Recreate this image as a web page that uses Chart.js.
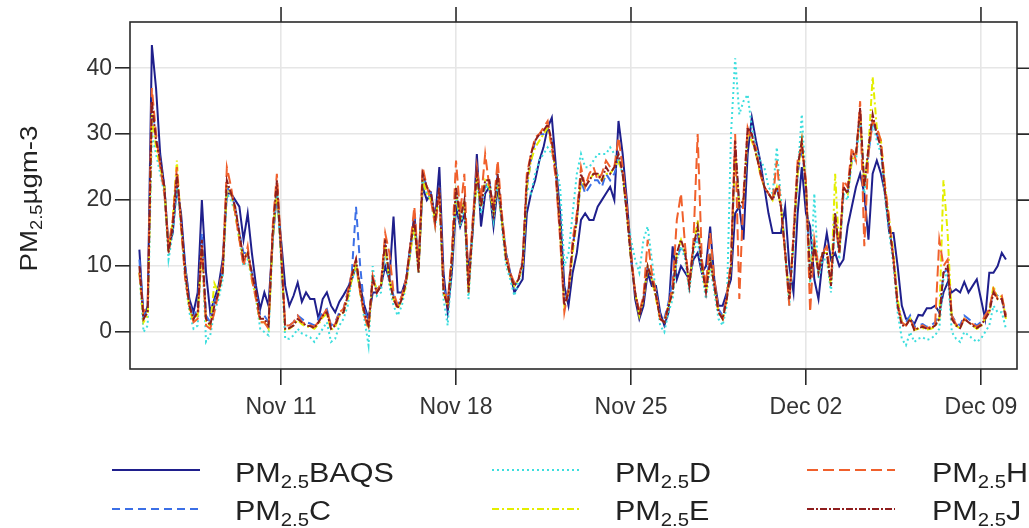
<!DOCTYPE html>
<html lang="en">
<head>
    <meta charset="UTF-8">
    <title>PM2.5</title>
    <script src="https://cdn.jsdelivr.net/npm/chart.js"></script>
    <style>
        html, body { margin: 0; padding: 0; background: #fff; }
        #box { width: 1029px; height: 528px; }
    </style>
</head>
<body>
    <div id="box"><canvas id="myChart" width="1029" height="528"></canvas></div>
<script>
    // hours since Nov 01 00:00, one reading every 4 hours (Nov 05 08:00 .. Dec 10 00:00)
    const hours = Array.from({ length: 209 }, (_, i) => 104 + 4 * i);

    const tickHours = [240, 408, 576, 744, 912];
    const tickLabels = ['Nov 11', 'Nov 18', 'Nov 25', 'Dec 02', 'Dec 09'];
    const yTicks = [0, 10, 20, 30, 40];

    const seriesNames = ['BAQS', 'C', 'D', 'E', 'H', 'J'];

    const pmBAQS = [12.5,2,4,43.5,37,27,22,13,15,22,
        18,10,5,3,6,20,9,3,5,7,
        11,21,21,20,19,14,18,12,7,3.5,
        6,4,14,21,14,7,4,5.5,7.5,4.6,
        6,5,5,2,5,6,4,3,4.6,5.6,
        6.7,8,10,7,4,2,6,6,7,10,
        8,17.5,6,6,8,12,18,10,22,20,
        21,17,25,9,3,9,19,16,18,9,
        15,27,16,21,22,16,22,17,12,9,
        6,7,8,18,21,23,26,28,31,32.5,
        25,18,7,4,9,12,17,18,17,17,
        19,20,21,22,20,32,27,20,12,5,
        2,4,9,7,7,3,1,3,13,8,
        10,9,8,11,12,9,10,16,8,4,
        4,6,8,18,19,14,27,32.5,29,26,
        22,18,15,15,15,19,10,6,18,25,
        18,16,8,5,11,15,11,12,10,11,
        16,19,22,24,21,14,24,26,24,21,
        15,15,10,4,2,2,1.2,2.6,2.5,3.6,
        3.6,4,3,6,7.5,6,6.5,6,7.6,6,
        7,8,5,2,9,9,10,12,11];

    const pmC = [11,2.5,3.5,34,30,26,22,13,16,23,
        17,10,4.5,2,4,15,2.5,1.5,4.5,6.5,
        9,22,21,19,15,12,12,9,6,2.5,
        2.5,1.5,14,22,12,1,1,1.5,2.5,2,
        1.5,1.3,1,2,3,3.5,1,1.5,3,3.5,
        6,9,19,10,3.5,1.5,8,6.5,7,13,
        8,5.5,4,5.5,8,13,17,10,24,22,
        21,17,22,7,4.5,11,21,17,20,7,
        16,24,20,22,23,18,24,17,12,9,
        7,8,11,22,26,29,30,30,31,29,
        24,16,5,6.5,13,17,23,21,22,23,
        23,22,24,23,24,26,24,18,11,6,
        3,5,10,8,6,2.5,2,4.5,8,11,
        13,12,7,13,15,10,7,12,7,3.5,
        2.5,5.5,10,28,19,19,30,30,27,25,
        22,21,20,22,19,13,5.5,14,24,28,
        22,9,13,9,12,12,7.5,18,12,21,
        21,26,27,33,22,27,32,30,28,21,
        16,11,4.5,1.5,1.5,2.5,0.8,1,1.2,0.8,
        1,1.5,2.5,9,9.5,2.5,1.5,1,2.5,2,
        1.5,1,1.5,2.5,3.5,6,5.5,5,2.5];

    const pmD = [9,0,1,30,27,24,21,11,15,22,
        16,8,3,0.5,1,13,-1.5,-0.5,3,5,
        8,21,20,18,14,10,11,8,5,0.5,
        0,-0.5,14,22,11,-1,-1,-0.5,0.5,-0.2,
        -0.5,-0.8,-1.5,-0.5,0.5,1.5,-1.5,-1,1,2,
        4,8,10,6,2,-2,10,5.5,6,13,
        7,4,2.5,4,7,12,16,9,23,21,
        20,16,21,5,1,10,21,16,19,5,
        15,23,18,22,22,17,23,16,10,8,
        5.5,7.5,10,22,21,24,26,27,28,27,
        25,22,10,12,18,24,27,25,25,26,
        27,27,27,28,27,26,24,18,14,11,
        9,14,16,11,6,1,0,3,5,11,
        13,11,6,12,14,9,5,10,6,2,
        1,4,30,41.5,33,35,36,31,28,26,
        25,22,21,28,20,12,4,13,24,33,
        22,7,21,8,11,11,6,17,11,21,
        20,26,26,32,21,27,32,29,27,20,
        15,10,3,-1,-2,0,-1.5,-1,-0.8,-1.2,
        -1,-0.5,0.5,8,9,0,-1,-1.5,0,-0.5,
        -1,-1.5,-1,0,1,4,3,3,0.5];

    const pmE = [9,1.5,2.5,33,28,25,22,12,17,26,
        16,9,3.5,1.5,2.5,13,1.5,1,7.4,6,
        9,22,21,18,14,11,12,8,5,1.5,
        1.5,0.5,14,22,12,0.3,0.5,1,1.8,1.2,
        0.8,0.8,0.5,1.2,2.2,2.8,0.3,0.8,2.4,3,
        5,8,10,6,2.5,0.5,8,6.5,7,13,
        8,5,3.5,5,7,12,16,9,23,21,
        20,17,21,6,4,11,21,17,20,6,
        16,23,19,23,22,18,23,17,11,8.5,
        7,8,10,22,26,28,29,30,31,28,
        24,15,4,6,12,17,23,22,23,24,
        24,23,24,24,25,26,24,18,11,6,
        2.5,5,10,8,5,2,1.5,4,6,12,
        14,12,7,13,17,10,6,11,7,3,
        2,5,10,27,19,20,30,29,27,24,
        22,21,20,22,19,12,5,14,24,29,
        22,9,13,9,12,12,7,24,12,22,
        21,26,27,33,22,28,38.7,31,29,22,
        17,12,5,1.5,1,2,0.3,0.5,0.6,0.4,
        0.5,0.8,2,23,15,2,1,0.5,2,1.5,
        1,0.5,0.8,2,3,7,5,5.5,2];

    const pmH = [9,3,4,37,30,25,21,13,17,25,
        16,8,4,1.5,2,13,1,0.5,3,6,
        10,25,22,18,14,10,13,8,5,1.5,
        1.5,0.5,16,24,13,1,1,1.5,2.5,1.5,
        1.2,1,0.8,1.5,2.5,3.5,0.8,1.2,3,3.5,
        6,9,11,6,2.5,0.5,8.5,6,7.5,15,
        12,6,4,5.5,8,13,19,10,25,22,
        20,16,21,7,4.5,12,26,18,24,7,
        17,25,20,27,22,19,26,18,12,9,
        7.5,8,11,24,27,29.5,30,31,32,28,
        23,14,3,6.5,14,18,25,22,24,25,
        23,24,26,25,25,29.5,25,19,12,6,
        3,5.5,14,9,6,2,1.5,4,7,17,
        21,13,7,14,30,11,7,15,8,3,
        2,5.5,11,30,5,21,31,29,28,24,
        22,21,20,26,19,12,4,15,26,28,
        23,3,14,10,12,13,8,17,12,23,
        22,28,26,35,13,27,32,31,29,22,
        17,11,4,1.5,1,2,0.5,0.8,1,0.6,
        0.8,1.2,14,10,11,2.5,1.2,0.8,2,1.5,
        1.2,0.8,1.2,2.5,3.5,6.5,5,5.5,2.5];

    const pmJ = [10,2,3,35,29,26,22,12,16,24,
        17,9,4,2,3,14,2,1,4,6,
        9,23,21,19,15,11,12,9,6,2,
        2,1,15,23,12,0.5,0.6,1,2,1.5,
        1,0.9,0.6,1.5,2.5,3,0.5,1,2.6,3,
        5.5,8.5,11,6.5,3,1,8,6,7,14,
        8,5,3.6,5,7.5,13,17,9,24,22,
        21,17,22,6,4,11,22,17,20,6,
        16,24,19,23,23,18,24,17,11,8.7,
        7,8,10.5,23,27,29,30,30.5,31.5,29,
        24,15,4,6,13,17,24,22,23,24,
        24,23,25,24,25,27,24,18,11,6,
        2.5,5,10,8,5.5,2,1.5,4,6,12,
        14,12,7,13,16,10,6,11,7,3,
        2,5,10,29,19,20,31,30,27,24.5,
        22,21,20,22,19,12,5,14,25,29,
        22,8,13,9,12,12,7,18,12,22,
        21,27,27,34,22,28,33,30,28,21,
        16,11,4,1,1,2,0.3,0.6,0.8,0.5,
        0.6,1,2,9,10,2,1,0.6,2,1.5,
        1,0.6,1,2,3,6,5,5,2];

    // estilo de cada serie (cor, tracejado)
    const estilos = {
        BAQS: { color: '#1f1f8c', dash: [] },
        C: { color: '#3b6fe6', dash: [8, 5] },
        D: { color: '#3cdede', dash: [2, 3] },
        E: { color: '#e3ee00', dash: [7, 3, 2, 3] },
        H: { color: '#f0602c', dash: [11, 5] },
        J: { color: '#8e1d1d', dash: [7, 2, 2, 2] }
    };

    const valores = { BAQS: pmBAQS, C: pmC, D: pmD, E: pmE, H: pmH, J: pmJ };

    function montaDataset(nome) {
        return {
            label: 'PM2.5' + nome,
            data: hours.map((h, i) => ({ x: h, y: valores[nome][i] })),
            borderColor: estilos[nome].color,
            borderDash: estilos[nome].dash,
            borderWidth: 2,
            pointRadius: 0,
            tension: 0,
            fill: false
        };
    }

    const fonte = '"Liberation Sans", Arial, sans-serif';

    // texto com subscrito "2.5", esticado na horizontal como no original
    function textoPM(ctx, x, y, tam, resto, sx) {
        ctx.save();
        ctx.translate(x, y);
        ctx.scale(sx, 1);
        ctx.fillStyle = '#222';
        ctx.textBaseline = 'alphabetic';
        ctx.textAlign = 'left';
        ctx.font = tam + 'px ' + fonte;
        ctx.fillText('PM', 0, 0);
        let w = ctx.measureText('PM').width;
        const tSub = Math.round(tam * 0.66);
        ctx.font = tSub + 'px ' + fonte;
        ctx.fillText('2.5', w, tam * 0.22);
        w += ctx.measureText('2.5').width;
        ctx.font = tam + 'px ' + fonte;
        ctx.fillText(resto, w, 0);
        ctx.restore();
    }

    function larguraPM(ctx, tam, resto, sx) {
        ctx.save();
        ctx.font = tam + 'px ' + fonte;
        let w = ctx.measureText('PM').width + ctx.measureText(resto).width;
        ctx.font = Math.round(tam * 0.66) + 'px ' + fonte;
        w += ctx.measureText('2.5').width;
        ctx.restore();
        return w * sx;
    }

    const legenda = [
        { nome: 'BAQS', col: 0, row: 0 },
        { nome: 'C', col: 0, row: 1 },
        { nome: 'D', col: 1, row: 0 },
        { nome: 'E', col: 1, row: 1 },
        { nome: 'H', col: 2, row: 0 },
        { nome: 'J', col: 2, row: 1 }
    ];
    const colLinha = [112, 492, 807];
    const colTexto = [235, 615, 932];
    const rowLinha = [470, 509];
    const rowBase = [482, 520];

    const molduraPlugin = {
        id: 'moldura',
        afterDraw(chart) {
            const { ctx, chartArea: a, scales } = chart;
            const x = scales.x, y = scales.y;
            ctx.save();
            ctx.strokeStyle = '#2a2a2a';
            ctx.lineWidth = 1.6;
            ctx.setLineDash([]);
            ctx.strokeRect(a.left, a.top, a.right - a.left, a.bottom - a.top);
            ctx.beginPath();
            tickHours.forEach(h => {
                const px = x.getPixelForValue(h);
                ctx.moveTo(px, a.top);
                ctx.lineTo(px, a.top - 15);
            });
            yTicks.forEach(v => {
                const py = y.getPixelForValue(v);
                ctx.moveTo(a.right, py);
                ctx.lineTo(a.right + 15, py);
            });
            ctx.stroke();

            // titulo do eixo y
            const sxT = 1.15, tamT = 24;
            const wT = larguraPM(ctx, tamT, 'µgm-3', sxT);
            const cy = (y.getPixelForValue(47) + y.getPixelForValue(-5.6)) / 2;
            ctx.save();
            ctx.translate(37, cy + 3);
            ctx.rotate(-Math.PI / 2);
            textoPM(ctx, -wT / 2, 0, tamT, 'µgm-3', sxT);
            ctx.restore();

            // legenda
            legenda.forEach(item => {
                const e = estilos[item.nome];
                ctx.save();
                ctx.strokeStyle = e.color;
                ctx.lineWidth = 2;
                ctx.setLineDash(e.dash);
                ctx.beginPath();
                ctx.moveTo(colLinha[item.col], rowLinha[item.row]);
                ctx.lineTo(colLinha[item.col] + 88, rowLinha[item.row]);
                ctx.stroke();
                ctx.restore();
                textoPM(ctx, colTexto[item.col], rowBase[item.row], 27, item.nome, 1.13);
            });
            ctx.restore();
        }
    };

    const ordemDesenho = ['J', 'H', 'E', 'D', 'C', 'BAQS'];

    const config = {
        type: 'line',
        data: { datasets: ordemDesenho.map(montaDataset) },
        options: {
            responsive: false,
            animation: false,
            layout: { padding: { top: 22, right: 12, bottom: 0, left: 0 } },
            plugins: {
                legend: { display: false },
                tooltip: { enabled: false },
                title: { display: false }
            },
            scales: {
                x: {
                    type: 'linear',
                    min: 95,
                    max: 946.6,
                    afterBuildTicks: (s) => { s.ticks = tickHours.map(v => ({ value: v })); },
                    afterFit: (s) => { s.height = 159; },
                    ticks: {
                        autoSkip: false,
                        maxRotation: 0,
                        padding: 9,
                        color: '#333',
                        font: { size: 23, family: fonte },
                        callback: (v) => tickLabels[tickHours.indexOf(v)]
                    },
                    grid: {
                        color: '#e6e6e6',
                        lineWidth: 1.6,
                        tickColor: '#2a2a2a',
                        tickWidth: 1.6,
                        tickLength: 16
                    },
                    border: { display: false }
                },
                y: {
                    min: -5.6,
                    max: 47,
                    afterBuildTicks: (s) => { s.ticks = yTicks.map(v => ({ value: v })); },
                    afterFit: (s) => { s.width = 130; },
                    ticks: {
                        padding: 3,
                        color: '#333',
                        font: { size: 23, family: fonte }
                    },
                    grid: {
                        color: '#e6e6e6',
                        lineWidth: 1.6,
                        tickColor: '#2a2a2a',
                        tickWidth: 1.6,
                        tickLength: 15
                    },
                    border: { display: false }
                }
            }
        },
        plugins: [molduraPlugin]
    };

    let myChart = new Chart(document.getElementById('myChart'), config);
</script>
</body>
</html>
